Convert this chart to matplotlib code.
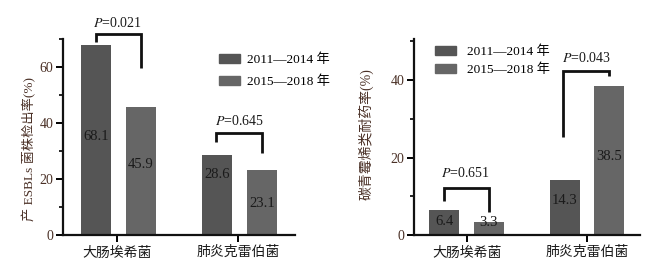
import matplotlib
matplotlib.use("Agg")
import matplotlib.pyplot as plt
from matplotlib.ticker import MultipleLocator
from matplotlib.patches import Patch

plt.rcParams['font.family'] = ['Liberation Serif', 'Noto Sans CJK SC']
plt.rcParams['mathtext.fontset'] = 'stix'

categories = ['大肠埃希菌', '肺炎克雷伯菌']
series_names = ['2011—2014 年', '2015—2018 年']
esbl_2011 = [68.1, 28.6]
esbl_2015 = [45.9, 23.1]
carb_2011 = [6.4, 14.3]
carb_2015 = [3.3, 38.5]
p_left = ['0.021', '0.645']
p_right = ['0.651', '0.043']

c1 = '#555555'
c2 = '#666666'
tick_col = '#4a3026'
txt_col = '#1a1a1a'
fs = 9.5
vfs = 10.5

fig = plt.figure(figsize=(6.61, 2.70), dpi=100)
axL = fig.add_axes([0.0958, 0.1296, 0.3505, 0.7248])
axR = fig.add_axes([0.6263, 0.1296, 0.342, 0.7248])

def style(ax, ymax, xlim):
    ax.set_ylim(0, ymax)
    ax.set_xlim(*xlim)
    for s in ['top', 'right']:
        ax.spines[s].set_visible(False)
    for s in ['left', 'bottom']:
        ax.spines[s].set_linewidth(1.6)
        ax.spines[s].set_color('#111111')
    ax.yaxis.set_major_locator(MultipleLocator(20))
    ax.yaxis.set_minor_locator(MultipleLocator(10))
    ax.tick_params(axis='y', which='major', length=5, width=1.4, labelsize=10, labelcolor=tick_col, pad=2)
    ax.tick_params(axis='y', which='minor', length=3, width=1.2)
    ax.tick_params(axis='x', length=5, width=1.4, labelsize=10, labelcolor=txt_col, pad=3)
    ax.set_xticks([0, 1])
    ax.set_xticklabels(categories)

def bracket(ax, x1, x2, y1, ytop, y2, label, ty, tx):
    ax.plot([x1, x1, x2, x2], [y1, ytop, ytop, y2], color='#111111', lw=2.0,
            clip_on=False, solid_joinstyle='miter', solid_capstyle='butt')
    ax.text(tx, ty, '$P$=' + label, ha='center', va='center', fontsize=10, color=txt_col, clip_on=False)

# Left panel
w = 0.249
offL = [-0.177, 0.197]
xs = [0, 1]
axL.bar([x + offL[0] for x in xs], esbl_2011, width=w, color=c1)
axL.bar([x + offL[1] for x in xs], esbl_2015, width=w, color=c2)
style(axL, 70, (-0.447, 1.472))
lyL1 = [35.2, 21.5]
lyL2 = [25.3, 11.4]
for i in range(2):
    axL.text(xs[i] + offL[0], lyL1[i], f'{esbl_2011[i]}', ha='center', va='center', fontsize=vfs, color=txt_col)
    axL.text(xs[i] + offL[1], lyL2[i], f'{esbl_2015[i]}', ha='center', va='center', fontsize=vfs, color=txt_col)
bracket(axL, offL[0], offL[1], 68.9, 72.0, 59.7, p_left[0], 75.8, 0.0)
bracket(axL, 1 + offL[0] - 0.005, 1 + offL[1] + 0.005, 33.4, 36.5, 29.3, p_left[1], 40.8, 1.01)
axL.set_ylabel('产 ESBLs 菌株检出率(%)', fontsize=9.5, color=tick_col)
axL.yaxis.set_label_coords(-0.115, 0.437)
axL.legend(handles=[Patch(color=c1), Patch(color=c2)], labels=series_names,
           loc='upper left', bbox_to_anchor=(0.62, 0.99), frameon=False, fontsize=fs,
           handlelength=1.6, handleheight=0.7, handletextpad=0.5, labelspacing=0.75)

# Right panel
offR = [-0.188, 0.183]
axR.bar([x + offR[0] for x in xs], carb_2011, width=w, color=c1)
axR.bar([x + offR[1] for x in xs], carb_2015, width=w, color=c2)
style(axR, 50.5, (-0.437, 1.437))
lyR1 = [3.4, 8.8]
lyR2 = [3.3, 20.2]
for i in range(2):
    axR.text(xs[i] + offR[0], lyR1[i], f'{carb_2011[i]}', ha='center', va='center', fontsize=vfs, color=txt_col)
    axR.text(xs[i] + offR[1], lyR2[i], f'{carb_2015[i]}', ha='center', va='center', fontsize=vfs, color=txt_col)
bracket(axR, offR[0], offR[1], 8.8, 12.05, 6.0, p_right[0], 15.9, -0.01)
bracket(axR, 1 + offR[0] - 0.01, 1 + offR[1], 25.4, 42.4, 41.0, p_right[1], 45.8, 0.99)
axR.set_ylabel('碳青霉烯类耐药率(%)', fontsize=10, color=tick_col)
axR.yaxis.set_label_coords(-0.181, 0.516)
axR.legend(handles=[Patch(color=c1), Patch(color=c2)], labels=series_names,
           loc='upper left', bbox_to_anchor=(0.04, 1.03), frameon=False, fontsize=fs,
           handlelength=1.6, handleheight=0.7, handletextpad=0.8, labelspacing=0.45)

fig.savefig('out.png', dpi=100)
